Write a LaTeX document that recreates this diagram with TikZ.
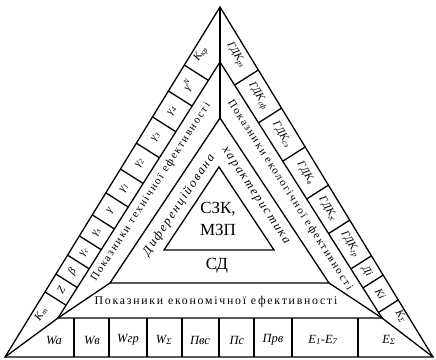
\documentclass[tikz,border=0pt]{standalone}
\usepackage{fontspec}
\setmainfont{Liberation Serif}
\newfontfamily\spacedfont[LetterSpace=15]{Liberation Serif}
\usetikzlibrary{calc}

\begin{document}
\begin{tikzpicture}[
  x=1pt, y=-1pt,
  triline/.style={line width=1.3pt},
  cellbox/.style={font=\itshape\fontsize{11}{12}\selectfont, inner sep=0pt},
  rowlabel/.style={font=\itshape\fontsize{12.5}{14}\selectfont, inner sep=0pt},
  bandtext/.style={font=\spacedfont\fontsize{11}{12}\selectfont, inner sep=0pt},
  diftext/.style={font=\spacedfont\itshape\fontsize{12.5}{14}\selectfont, inner sep=0pt},
  coretext/.style={font=\fontsize{17}{22}\selectfont, align=center, inner sep=0pt}
]
\useasboundingbox (0,0) rectangle (436,359);

% corners of the nested triangles
\coordinate (A0) at (5,357);
\coordinate (B0) at (433,357);
\coordinate (C0) at (220,7);
\coordinate (A1) at (58,318);
\coordinate (B1) at (382,318);
\coordinate (C1) at (220,62);
\coordinate (A2) at (110,283);
\coordinate (B2) at (329,283);
\coordinate (C2) at (220,118);
\coordinate (A3) at (164,250);
\coordinate (B3) at (274,250);
\coordinate (C3) at (219,167);

\draw[triline] (A0) -- (B0) -- (C0) -- cycle;
\draw[triline] (A1) -- (B1) -- (C1) -- cycle;
\draw[triline] (A2) -- (B2) -- (C2) -- cycle;
\draw[triline] (A3) -- (B3) -- (C3) -- cycle;
\draw[triline] (A0) -- (A1) -- (A2);
\draw[triline] (B0) -- (B1) -- (B2);
\draw[triline] (C0) -- (C1) -- (C2);

% left band cells
\coordinate (l1) at ($(A0)!0.186!(C0)$);
\coordinate (l2) at ($(A0)!0.237!(C0)$);
\coordinate (l3) at ($(A0)!0.291!(C0)$);
\coordinate (l4) at ($(A0)!0.346!(C0)$);
\coordinate (l5) at ($(A0)!0.406!(C0)$);
\coordinate (l6) at ($(A0)!0.469!(C0)$);
\coordinate (l7) at ($(A0)!0.537!(C0)$);
\coordinate (l8) at ($(A0)!0.611!(C0)$);
\coordinate (l9) at ($(A0)!0.686!(C0)$);
\coordinate (l10) at ($(A0)!0.760!(C0)$);
\coordinate (l11) at ($(A0)!0.834!(C0)$);
\draw[triline] (l1) -- ($(A1)!(l1)!(C1)$);
\draw[triline] (l2) -- ($(A1)!(l2)!(C1)$);
\draw[triline] (l3) -- ($(A1)!(l3)!(C1)$);
\draw[triline] (l4) -- ($(A1)!(l4)!(C1)$);
\draw[triline] (l5) -- ($(A1)!(l5)!(C1)$);
\draw[triline] (l6) -- ($(A1)!(l6)!(C1)$);
\draw[triline] (l7) -- ($(A1)!(l7)!(C1)$);
\draw[triline] (l8) -- ($(A1)!(l8)!(C1)$);
\draw[triline] (l9) -- ($(A1)!(l9)!(C1)$);
\draw[triline] (l10) -- ($(A1)!(l10)!(C1)$);
\draw[triline] (l11) -- ($(A1)!(l11)!(C1)$);

\coordinate (ML0) at ($(A0)!.5!(A1)$);
\coordinate (ML1) at ($(C0)!.5!(C1)$);
\node[cellbox, rotate=58.4] (km) at (41,314) {K\textsubscript{m}};
\node[cellbox, rotate=58.4] (z) at ($(ML0)!0.158!(ML1)$) {Z};
\node[cellbox, rotate=58.4] (beta) at ($(ML0)!0.218!(ML1)$) {β};
\node[cellbox, rotate=58.4] (gc) at ($(ML0)!0.281!(ML1)$) {γ\textsubscript{c}};
\node[cellbox, rotate=58.4] (gs) at ($(ML0)!0.347!(ML1)$) {γ\textsubscript{s}};
\node[cellbox, rotate=58.4] (g) at ($(ML0)!0.418!(ML1)$) {γ};
\node[cellbox, rotate=58.4] (g1) at ($(ML0)!0.493!(ML1)$) {γ\textsubscript{1}};
\node[cellbox, rotate=58.4] (g2) at ($(ML0)!0.575!(ML1)$) {γ\textsubscript{2}};
\node[cellbox, rotate=58.4] (g3) at ($(ML0)!0.661!(ML1)$) {γ\textsubscript{3}};
\node[cellbox, rotate=58.4] (g4) at ($(ML0)!0.747!(ML1)$) {γ\textsubscript{4}};
\node[cellbox, rotate=58.4] (gn) at ($(ML0)!0.832!(ML1)$) {γ\textsuperscript{N}};
\node[cellbox, rotate=58.4] (kkr) at (201,54) {K\textsubscript{кр}};

% right band cells
\coordinate (r1) at ($(B0)!0.163!(C0)$);
\coordinate (r2) at ($(B0)!0.234!(C0)$);
\coordinate (r3) at ($(B0)!0.289!(C0)$);
\coordinate (r4) at ($(B0)!0.391!(C0)$);
\coordinate (r5) at ($(B0)!0.491!(C0)$);
\coordinate (r6) at ($(B0)!0.600!(C0)$);
\coordinate (r7) at ($(B0)!0.711!(C0)$);
\coordinate (r8) at ($(B0)!0.820!(C0)$);
\draw[triline] (r1) -- ($(B1)!(r1)!(C1)$);
\draw[triline] (r2) -- ($(B1)!(r2)!(C1)$);
\draw[triline] (r3) -- ($(B1)!(r3)!(C1)$);
\draw[triline] (r4) -- ($(B1)!(r4)!(C1)$);
\draw[triline] (r5) -- ($(B1)!(r5)!(C1)$);
\draw[triline] (r6) -- ($(B1)!(r6)!(C1)$);
\draw[triline] (r7) -- ($(B1)!(r7)!(C1)$);
\draw[triline] (r8) -- ($(B1)!(r8)!(C1)$);

\coordinate (MR0) at ($(B0)!.5!(B1)$);
\coordinate (MR1) at ($(C0)!.5!(C1)$);
\node[cellbox, rotate=-58.7] (ksum) at (401,316) {K\textsubscript{Σ}};
\node[cellbox, rotate=-58.7] (ki) at ($(MR0)!0.144!(MR1)$) {Кi};
\node[cellbox, rotate=-58.7] (di) at ($(MR0)!0.217!(MR1)$) {Дi};
\node[cellbox, rotate=-58.7] (gdkgr) at ($(MR0)!0.307!(MR1)$) {ГДК\textsubscript{гр}};
\node[cellbox, rotate=-58.7] (gdkgs) at ($(MR0)!0.423!(MR1)$) {ГДК\textsubscript{гс}};
\node[cellbox, rotate=-58.7] (gdkv) at ($(MR0)!0.543!(MR1)$) {ГДК\textsubscript{в}};
\node[cellbox, rotate=-58.7] (gdkse) at ($(MR0)!0.670!(MR1)$) {ГДК\textsubscript{сэ}};
\node[cellbox, rotate=-58.7] (gdksf) at ($(MR0)!0.796!(MR1)$) {ГДК\textsubscript{сф}};
\node[cellbox, rotate=-58.7] (gdkrz) at (236,55) {ГДК\textsubscript{рз}};

% bottom row
\draw[triline] (74,318) -- (74,357);
\draw[triline] (109,318) -- (109,357);
\draw[triline] (147,318) -- (147,357);
\draw[triline] (182,318) -- (182,357);
\draw[triline] (219,318) -- (219,357);
\draw[triline] (254,318) -- (254,357);
\draw[triline] (292,318) -- (292,357);
\draw[triline] (358,318) -- (358,357);
\node[rowlabel] (wa) at (54,340) {Wa};
\node[rowlabel] (wv) at (92,340) {Wв};
\node[rowlabel] (wgr) at (128,340) {Wгр};
\node[rowlabel] (wsum) at (164,340) {W\textsubscript{Σ}};
\node[rowlabel] (pvs) at (200,340) {Пвс};
\node[rowlabel] (ps) at (237,340) {Пс};
\node[rowlabel] (prv) at (273,340) {Прв};
\node[rowlabel] (e17) at (323,340) {E\textsubscript{1}-E\textsubscript{7}};
\node[rowlabel] (esum) at (389,340) {E\textsubscript{Σ}};

% band titles
\node[bandtext, rotate=57] (tech) at (151,192) {Показники технічної ефективності};
\node[bandtext, rotate=-57.5] (eco) at (290,195) {Показники екологічної ефективності};
\node[bandtext, font=\spacedfont\fontsize{11.8}{13}\selectfont] (econ) at (216,302) {Показники економічної ефективності};
\node[diftext, rotate=56] (dif) at (179,205) {Диференційована};
\node[diftext, rotate=-56.5] (har) at (255,196) {характеристика};
\node[coretext] (sd) at (217,266) {СД};
\node[coretext] (szk) at (218,219) {СЗК,\\МЗП};
\end{tikzpicture}
\end{document}
